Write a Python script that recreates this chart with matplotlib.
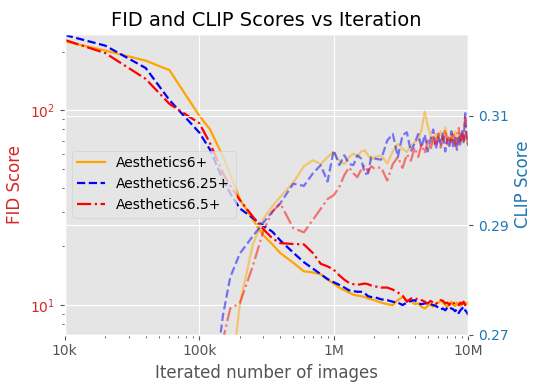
import numpy as np
import matplotlib
matplotlib.use("Agg")
import matplotlib.pyplot as plt
from matplotlib.ticker import FixedLocator, FixedFormatter

plt.style.use("ggplot")

# Iterated number of images (in thousands)
iters_k = [10, 20, 40, 60, 100, 120, 150, 170, 200, 250, 300, 350, 400, 500, 600, 700, 800, 900,
           1000, 1100, 1200, 1300, 1400, 1500, 1600, 1700, 1800, 1900, 2000,
           2250, 2500, 2750, 3000, 3250, 3500, 3750, 4000, 4250, 4500, 4750, 5000,
           5250, 5500, 5750, 6000, 6250, 6500, 6750, 7000, 7250, 7500, 7750, 8000,
           8250, 8500, 8750, 9000, 9250, 9500, 9750, 10000]

labels = ["Aesthetics6+", "Aesthetics6.25+", "Aesthetics6.5+"]

fid_6 = [226, 203, 180, 161, 94, 80, 58, 47, 35, 27.5, 22.8, 20.5, 18.5, 16.5, 14.9, 14.7, 14.4, 13.5,
         12.9, 12.3, 11.9, 11.6, 11.3, 11.2, 11.1, 11.0, 10.8, 10.7, 10.6,
         10.3, 10.1, 10.0, 10.6, 11.0, 10.6, 10.5, 10.1, 10.2, 9.8, 9.6, 9.9,
         10.1, 9.8, 10.2, 10.3, 10.6, 10.3, 10.0, 9.8, 10.1, 10.4, 10.0, 9.9,
         10.3, 10.1, 9.9, 10.2, 10.4, 10.0, 10.3, 10.2]
fid_625 = [244, 215, 165, 113, 77, 63, 44, 37.5, 31.4, 28, 25.5, 23.8, 21.5, 18.6, 16.6, 15.4, 14.4, 13.6,
           13.1, 12.7, 12.3, 11.9, 11.8, 11.7, 11.7, 11.5, 11.1, 11.0, 11.0,
           10.7, 10.6, 10.4, 10.3, 10.0, 10.3, 10.5, 10.6, 10.2, 10.1, 10.2, 10.2,
           10.1, 10.0, 9.9, 9.7, 9.5, 9.6, 9.4, 9.7, 9.8, 9.6, 9.5, 9.3,
           9.5, 9.1, 9.4, 9.6, 9.8, 9.4, 9.2, 8.9]
fid_65 = [230, 197, 145, 108, 86, 68, 47.5, 41, 34.7, 28.5, 24.5, 22, 20.8, 20.6, 20.5, 18.5, 16.3, 15.8,
          15.2, 14.2, 13.5, 13.0, 12.8, 12.7, 12.8, 12.9, 12.8, 12.6, 12.5,
          12.3, 12.3, 12.0, 11.6, 11.2, 10.4, 10.8, 10.9, 10.6, 10.6, 10.4, 10.2,
          10.5, 10.3, 10.1, 10.4, 10.6, 10.5, 10.2, 10.3, 10.0, 10.4, 10.2, 10.3,
          10.1, 10.0, 10.3, 10.1, 10.4, 10.0, 10.3, 10.2]

clip_6 = [0.17, 0.18, 0.19, 0.20, 0.21, 0.225, 0.245, 0.26, 0.2755, 0.2865, 0.2912, 0.2935, 0.2952, 0.2978,
          0.3008, 0.3019, 0.3012, 0.3025,
          0.3034, 0.3018, 0.3012, 0.3025, 0.3031, 0.3026, 0.3035, 0.3037, 0.3028, 0.3020, 0.3024,
          0.3028, 0.3013, 0.3035, 0.3049, 0.3040, 0.3034, 0.3045, 0.3052, 0.3055, 0.3075, 0.3108, 0.3082,
          0.3065, 0.3048, 0.3067, 0.3058, 0.3072, 0.3055, 0.3079, 0.3062, 0.3048, 0.3068, 0.3055, 0.3072,
          0.3058, 0.3046, 0.3065, 0.3052, 0.3070, 0.3056, 0.3062, 0.3048]
clip_625 = [0.19, 0.20, 0.21, 0.22, 0.24, 0.255, 0.2735, 0.2805, 0.2848, 0.2880, 0.2905, 0.2925, 0.2940, 0.2976,
            0.2972, 0.2995, 0.3010, 0.2980,
            0.3037, 0.3010, 0.3028, 0.3012, 0.3010, 0.3028, 0.3022, 0.2994, 0.2995, 0.3025, 0.3022,
            0.3020, 0.3055, 0.3067, 0.3025, 0.3065, 0.3070, 0.3035, 0.3050, 0.3067, 0.3042, 0.3066, 0.3035,
            0.3058, 0.3075, 0.3040, 0.3062, 0.3048, 0.3070, 0.3035, 0.3058, 0.3045, 0.3072, 0.3042, 0.3060,
            0.3038, 0.3065, 0.3048, 0.3075, 0.3052, 0.3105, 0.3058, 0.3045]
clip_65 = [0.18, 0.19, 0.20, 0.21, 0.22, 0.24, 0.269, 0.2748, 0.2757, 0.2825, 0.2890, 0.2925, 0.2940, 0.2895,
           0.2887, 0.2910, 0.2930, 0.2948,
           0.2955, 0.2970, 0.2992, 0.3006, 0.2995, 0.2988, 0.3002, 0.3010, 0.2998, 0.3008, 0.3004,
           0.3006, 0.2982, 0.3012, 0.3025, 0.3005, 0.3030, 0.3018, 0.3042, 0.3025, 0.3048, 0.3032, 0.3055,
           0.3038, 0.3062, 0.3045, 0.3068, 0.3042, 0.3058, 0.3075, 0.3048, 0.3065, 0.3052, 0.3070, 0.3045,
           0.3062, 0.3078, 0.3050, 0.3068, 0.3055, 0.3098, 0.3060, 0.3048]

colors = ["orange", "blue", "red"]
styles = ["-", "--", "-."]

x = np.array(iters_k) * 1000

fig = plt.figure(figsize=(5.4, 3.9), dpi=100)
ax1 = fig.add_axes([0.12, 0.142, 0.747, 0.771])
ax2 = ax1.twinx()

for fid, c, ls, lab in zip([fid_6, fid_625, fid_65], colors, styles, labels):
    ax1.plot(x, fid, color=c, linestyle=ls, linewidth=1.6, label=lab)

for clip, c, ls in zip([clip_6, clip_625, clip_65], colors, styles):
    ax2.plot(x, clip, color=c, linestyle=ls, linewidth=1.6, alpha=0.5)

ax1.set_xscale("log")
ax1.set_yscale("log")
ax1.set_xlim(1e4, 1e7)
ax1.set_ylim(7.05, 247)
ax2.set_ylim(0.27, 0.325)

ax1.xaxis.set_major_locator(FixedLocator([1e4, 1e5, 1e6, 1e7]))
ax1.xaxis.set_major_formatter(FixedFormatter(["10k", "100k", "1M", "10M"]))
ax2.set_yticks([0.27, 0.29, 0.31])
ax2.set_yticklabels(["0.27", "0.29", "0.31"])

ax1.set_xlabel("Iterated number of images", fontsize=12)
ax1.set_ylabel("FID Score", color="tab:red", fontsize=12)
ax2.set_ylabel("CLIP Score", color="tab:blue", fontsize=12)
ax1.tick_params(axis="y", which="both", labelcolor="tab:red")
ax2.tick_params(axis="y", labelcolor="tab:blue")
ax1.tick_params(axis="both", labelsize=10)
ax2.tick_params(axis="y", labelsize=10)

ax1.set_title("FID and CLIP Scores vs Iteration", fontsize=14, color="black")
ax1.legend(loc="center left", fontsize=10)

fig.savefig("out.png", dpi=100)
